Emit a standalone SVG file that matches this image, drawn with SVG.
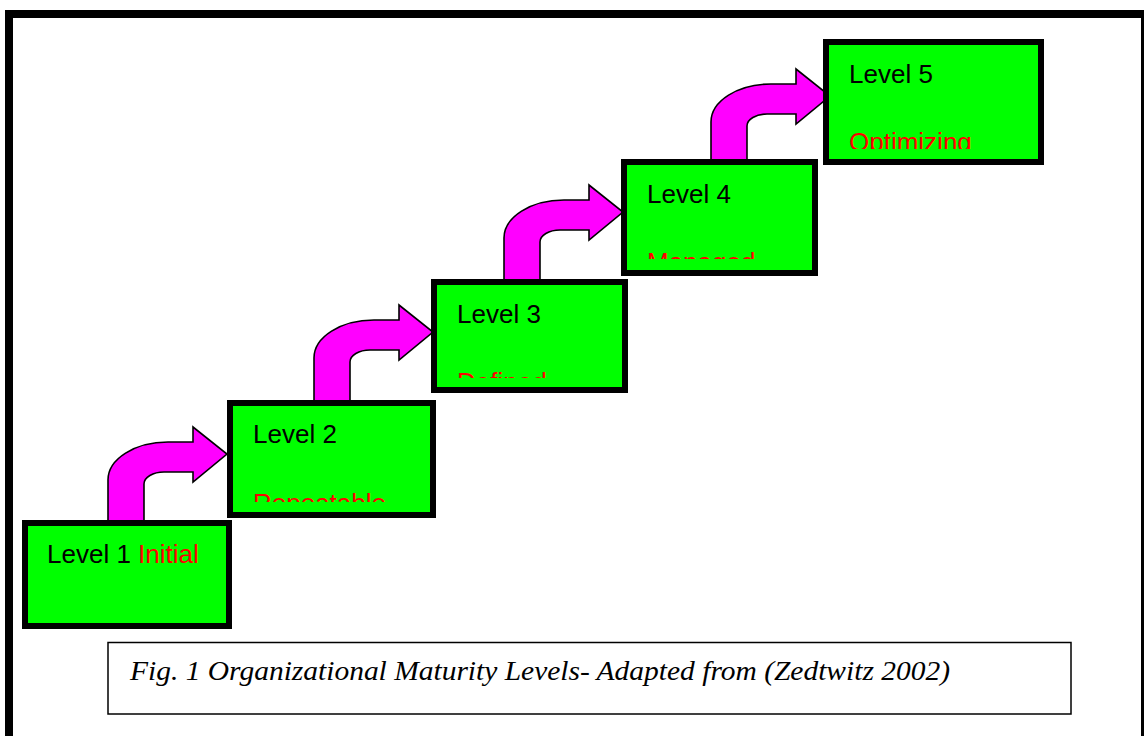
<svg xmlns="http://www.w3.org/2000/svg" width="1144" height="736" viewBox="0 0 1144 736">
<style>
.box{fill:#00FF00;stroke:#000;stroke-width:6}
.arrow{fill:#FF00FF;stroke:#000;stroke-width:1.6;stroke-linejoin:miter}
.lbl{font-family:"Liberation Sans",Arial,sans-serif;font-size:26px;fill:#000}
.red{fill:#FF0000}
.cap{font-family:"Liberation Serif","Times New Roman",serif;font-style:italic;font-size:28px;fill:#000}
</style>
<defs>
<path id="bent" d="M 0,90 L 0,38 A 60 38 0 0 1 60,0 L 85,0 L 85,-15 L 119,12 L 85,40 L 85,30 L 56,30 A 20 12 0 0 0 36,42 L 36,90 Z"/>
<clipPath id="c2"><rect x="227" y="400" width="209" height="102"/></clipPath>
<clipPath id="c3"><rect x="431" y="279" width="197" height="99"/></clipPath>
<clipPath id="c4"><rect x="621" y="159" width="197" height="100"/></clipPath>
<clipPath id="c5"><rect x="823" y="39" width="221" height="110"/></clipPath>
</defs>
<rect x="0" y="0" width="1144" height="736" fill="#fff"/>
<rect x="9" y="14" width="1136" height="740" fill="none" stroke="#000" stroke-width="8"/>
<g id="connectors">
<use href="#bent" class="arrow" transform="translate(108,442)"/>
<use href="#bent" class="arrow" transform="translate(314,320)"/>
<use href="#bent" class="arrow" transform="translate(504,200)"/>
<use href="#bent" class="arrow" transform="translate(711,84)"/>
</g>
<g id="level1">
<rect class="box" x="25" y="523" width="204" height="103"/>
<text class="lbl" x="47" y="563">Level 1 <tspan class="red">Initial</tspan></text>
</g>
<g id="level2">
<rect class="box" x="230" y="403" width="203" height="112"/>
<text class="lbl" x="253" y="443">Level 2</text>
<text class="lbl red" x="253" y="512" clip-path="url(#c2)">Repeatable</text>
</g>
<g id="level3">
<rect class="box" x="434" y="282" width="191" height="108"/>
<text class="lbl" x="457" y="323">Level 3</text>
<text class="lbl red" x="457" y="391" clip-path="url(#c3)">Defined</text>
</g>
<g id="level4">
<rect class="box" x="624" y="162" width="191" height="111"/>
<text class="lbl" x="647" y="203">Level 4</text>
<text class="lbl red" x="647" y="271" clip-path="url(#c4)">Managed</text>
</g>
<g id="level5">
<rect class="box" x="826" y="42" width="215" height="120"/>
<text class="lbl" x="849" y="83">Level 5</text>
<text class="lbl red" x="849" y="151" clip-path="url(#c5)">Optimizing</text>
</g>
<g id="caption">
<rect x="108" y="642.5" width="963" height="71.5" fill="#fff" stroke="#000" stroke-width="1.5"/>
<text class="cap" x="130" y="680" textLength="820" lengthAdjust="spacingAndGlyphs">Fig. 1 Organizational Maturity Levels- Adapted from (Zedtwitz 2002)</text>
</g>
</svg>
